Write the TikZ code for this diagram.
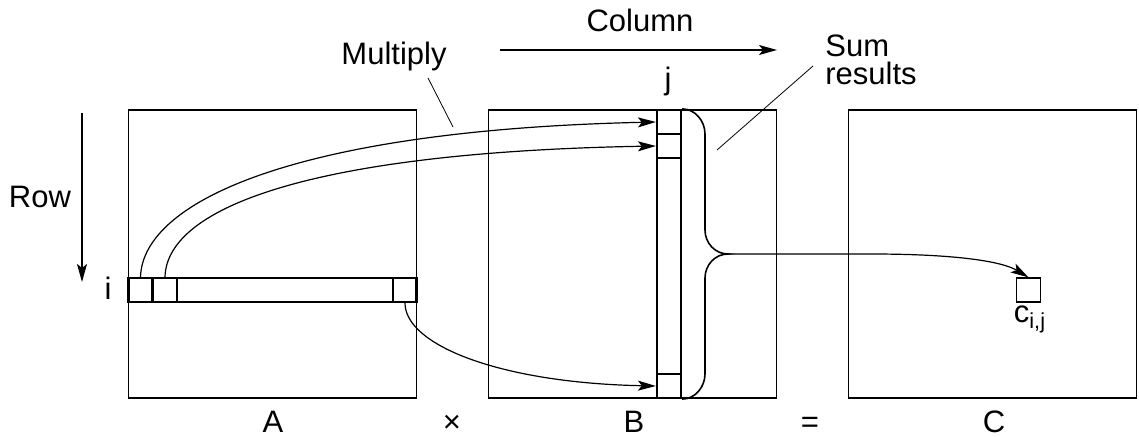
\documentclass[tikz,border=0pt]{standalone}
\usepackage{fontspec}
\setmainfont{Liberation Sans}
\usetikzlibrary{arrows.meta}
\begin{document}
\begin{tikzpicture}[x=0.5pt,y=-0.5pt,
    mat/.style={draw,line width=0.65pt,inner sep=0pt,
      minimum width=144pt,minimum height=144pt},
    strip/.style={draw,line width=1.1pt,inner sep=0pt},
    cell/.style={draw,line width=1.1pt,inner sep=0pt,
      minimum width=12pt,minimum height=12pt},
    lbl/.style={inner sep=0pt,font=\fontsize{15.5}{14}\selectfont},
    tip/.style={-{Stealth[length=9pt,width=5pt,inset=2pt]}},
    link/.style={tip,line width=0.6pt}]
    \useasboundingbox (0,0) rectangle (1139,437);
    \foreach \m/\cx in {A/272.5,B/632.5,C/992.5}
      \node[mat] (\m) at (\cx,254) {};
    \foreach \m/\cx in {A/273,B/634,C/994}
      \node[lbl,anchor=base] (lbl\m) at (\cx,433) {\m};
    \node[lbl,anchor=base] (times) at (452,433) {×};
    \node[lbl,anchor=base] (equals) at (810,433) {=};
    % row i of A, column j of B
    \node[strip,minimum width=144pt,minimum height=12pt] (rowA) at (272.5,290) {};
    \node[strip,minimum width=12pt,minimum height=144pt] (colB) at (669,254) {};
    \foreach \n/\cx in {a1/140.5,a2/165,aN/405}
      \node[cell] (\n) at (\cx,290) {};
    \foreach \n/\cy in {b1/122,b2/146,bN/386}
      \node[cell] (\n) at (669,\cy) {};
    \node[draw,line width=0.6pt,inner sep=0pt,minimum size=12pt] (cij) at (1028.5,290) {};
    \node[lbl,anchor=base] (cijlbl) at (1030,323) {c\textsubscript{i,j}};
    \node[lbl,anchor=base] (ilbl) at (108,300) {i};
    \node[lbl,anchor=base] (jlbl) at (668,90) {j};
    % direction arrows
    \node[lbl,anchor=base] (row) at (40,208) {Row};
    \node[lbl,anchor=base] (column) at (640,32) {Column};
    \coordinate (rowtop) at (82,113);
    \coordinate (rowend) at (82,282);
    \coordinate (colstart) at (500,50);
    \coordinate (colend) at (777,50);
    \draw[tip,line width=0.9pt] (rowtop) -- (rowend);
    \draw[tip,line width=0.9pt] (colstart) -- (colend);
    % products
    \draw[link] (a1.north) .. controls (143,200) and (300,130) .. (b1.west);
    \draw[link] (a2.north) .. controls (167,205) and (320,152) .. (b2.west);
    \draw[link] (aN.south) .. controls (405,345) and (500,383) .. (bN.west);
    % the sum
    \coordinate (sumtip) at (728,254);
    \draw[line width=0.8pt] (colB.north east) .. controls +(13,0) and +(0,-13) .. (705,134)
      -- (705,230) .. controls +(0,13) and +(-13,0) .. (sumtip)
      .. controls +(-13,0) and +(0,-13) .. (705,278)
      -- (705,374) .. controls +(0,13) and +(13,0) .. (colB.south east);
    \draw[link] (sumtip) -- (870,254) .. controls (960,254) and (1003,262) .. (cij.north);
    % callouts
    \node[lbl,anchor=base] (multiply) at (394,65) {Multiply};
    \node[lbl,align=left,anchor=north west] (sumres) at (825,34) {Sum\\results};
    \coordinate (mulfrom) at (428,78);
    \coordinate (multo) at (453,127);
    \coordinate (sumfrom) at (813,66);
    \coordinate (sumto) at (717,150);
    \draw[line width=0.4pt] (mulfrom) -- (multo);
    \draw[line width=0.4pt] (sumfrom) -- (sumto);
\end{tikzpicture}
\end{document}
